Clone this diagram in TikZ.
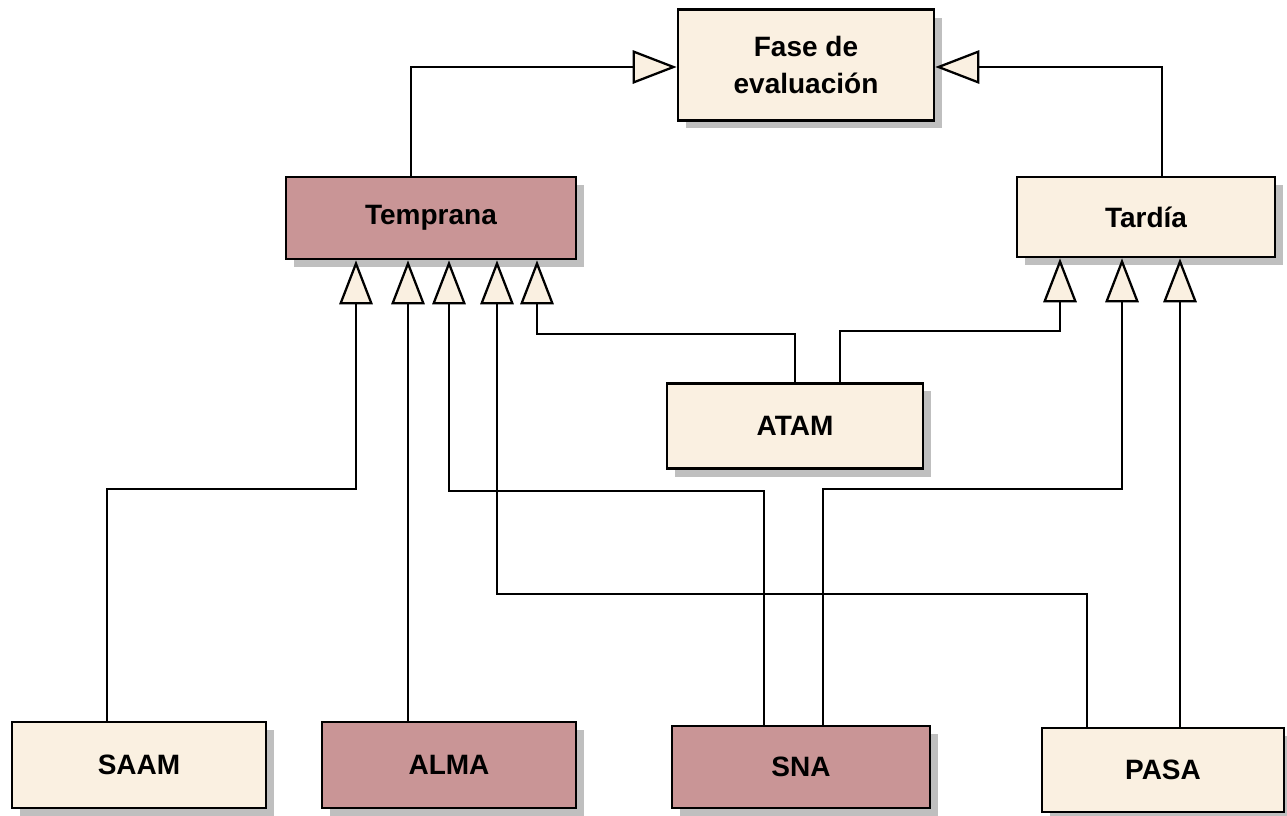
\documentclass[tikz,border=0pt]{standalone}
\usepackage{fontspec}
\setmainfont{Liberation Sans}
\usepackage{tikz}
\usetikzlibrary{arrows.meta,calc,shadows,positioning}
\definecolor{cream}{RGB}{250,240,225}
\definecolor{rose}{RGB}{201,149,150}
\tikzset{
  box/.style={draw, line width=2pt, fill=cream, inner sep=0pt, align=center,
    font=\fontsize{21}{28}\selectfont\bfseries,
    drop shadow={shadow xshift=6pt, shadow yshift=-6pt, fill=black!25, opacity=1}},
  early/.style={box, fill=rose},
  gen/.style={line width=1.7pt, -{Triangle[length=33pt,width=25pt,fill=cream,line width=1.7pt]}}
}

\begin{document}
\begin{tikzpicture}[x=0.75pt,y=-0.75pt]
  \useasboundingbox (0,0) rectangle (1287,815);
  % categorias
  \node[box, minimum width=192pt, minimum height=83pt] (Fase) at (806,65) {Fase de\\evaluación};
  \node[early, minimum width=217.5pt, minimum height=61.5pt] (Temprana) at (431,218) {Temprana};
  \node[box, minimum width=193.5pt, minimum height=60pt] (Tardia) at (1146,217) {Tardía};
  % metodos
  \node[box, minimum width=192pt, minimum height=64pt] (ATAM) at (795,426) {ATAM};
  \node[box, minimum width=190.5pt, minimum height=64.5pt] (SAAM) at (139,765) {SAAM};
  \node[early, minimum width=190.5pt, minimum height=64.5pt] (ALMA) at (449,765) {ALMA};
  \node[early, minimum width=193.5pt, minimum height=61.5pt] (SNA) at (801,767) {SNA};
  \node[box, minimum width=181.5pt, minimum height=63pt] (PASA) at (1163,770) {PASA};

  \draw[gen] ($(Temprana.north)+(-20,0)$) |- ($(Fase.west)+(0,2)$);
  \draw[gen] ($(Tardia.north)+(16,0)$) |- ($(Fase.east)+(0,2)$);

  \draw[gen] ($(SAAM.north)+(-32,0)$) -- ++(0,-232) -| ($(Temprana.south)+(-75,0)$);
  \draw[gen] ($(ALMA.north)+(-41,0)$) coordinate (a) -- (a |- Temprana.south);
  \draw[gen] ($(SNA.north)+(-37,0)$) -- ++(0,-234) -| ($(Temprana.south)+(18,0)$);
  \draw[gen] ($(PASA.north)+(-76,0)$) -- ++(0,-133) -| ($(Temprana.south)+(66,0)$);
  \draw[gen] (ATAM.north) -- ++(0,-48) -| ($(Temprana.south)+(106,0)$);

  \draw[gen] ($(ATAM.north)+(45,0)$) -- ++(0,-51) -| ($(Tardia.south)+(-86,0)$);
  \draw[gen] ($(SNA.north)+(22,0)$) -- ++(0,-236) -| ($(Tardia.south)+(-24,0)$);
  \draw[gen] ($(PASA.north)+(17,0)$) coordinate (b) -- (b |- Tardia.south);
\end{tikzpicture}
\end{document}
